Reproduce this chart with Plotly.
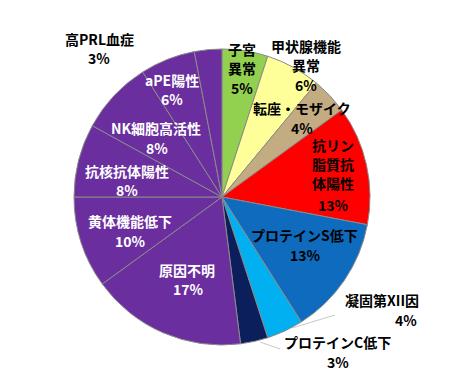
import plotly.graph_objects as go

W, H = 450, 385
OFF = 8  # page body margin offset

labels = ["子宮異常", "甲状腺機能異常", "転座・モザイク", "抗リン脂質抗体陽性", "プロテインS低下",
          "凝固第XII因", "プロテインC低下", "原因不明", "黄体機能低下", "抗核抗体陽性",
          "NK細胞高活性", "aPE陽性", "高PRL血症"]
values = [5, 6, 4, 13, 13, 4, 3, 17, 10, 8, 8, 6, 3]
# label text split into display lines (as wrapped in the chart)
label_lines = [["子宮", "異常"], ["甲状腺機能", "異常"], ["転座・モザイク"], ["抗リン", "脂質抗", "体陽性"],
               ["プロテインS低下"], ["凝固第XII因"], ["プロテインC低下"], ["原因不明"], ["黄体機能低下"],
               ["抗核抗体陽性"], ["NK細胞高活性"], ["aPE陽性"], ["高PRL血症"]]

colors = ["#92D050", "#FFFF99", "#C4AC82", "#FF0000", "#0E6BBE", "#00B0F0", "#0A1F5C",
          "#6A2E9E", "#6A2E9E", "#6A2E9E", "#6A2E9E", "#6A2E9E", "#6A2E9E"]
text_colors = ["black"] * 7 + ["white"] * 5 + ["black"]
# (x centre of name, y of first line, x centre of percent, y of percent) in screenshot pixels
label_pos = [(242, 49, 242, 88), (306, 46, 306, 85), (302, 108, 302, 128), (333, 145, 333, 205),
             (304, 235, 305, 255), (382, 300, 406, 320), (337, 342, 338, 362),
             (187, 270, 188, 289), (130, 221, 130, 241), (127, 171, 127, 190),
             (156, 128, 157, 148), (172, 80, 172, 99), (99, 39, 99, 58)]
LINE_STEP = 19

cx, cy, r = 222 - OFF, 197 - OFF, 148

fig = go.Figure(go.Pie(
    labels=labels, values=values, sort=False, direction="clockwise", rotation=0,
    marker=dict(colors=colors, line=dict(color="#8a8a8a", width=1)),
    textinfo="none", hoverinfo="label+percent", showlegend=False,
    domain=dict(x=[(cx - r) / W, (cx + r) / W], y=[(H - cy - r) / H, (H - cy + r) / H]),
))

total = sum(values)


def ann(text, px, py, color):
    return dict(x=(px - OFF) / W, y=1 - (py - OFF) / H, xref="paper", yref="paper", showarrow=False,
                xanchor="center", yanchor="middle", text=f"<b>{text}</b>",
                font=dict(family="Noto Sans CJK JP", size=14, color=color))


anns = []
for lines, v, tc, (nx, ny, qx, qy) in zip(label_lines, values, text_colors, label_pos):
    for i, line in enumerate(lines):
        anns.append(ann(line, nx, ny + i * LINE_STEP, tc))
    anns.append(ann(f"{round(100 * v / total)}%", qx, qy, tc))


def pline(x0, y0, x1, y1):
    return dict(type="line", xref="paper", yref="paper",
                x0=(x0 - OFF) / W, y0=1 - (y0 - OFF) / H, x1=(x1 - OFF) / W, y1=1 - (y1 - OFF) / H,
                line=dict(color="#c8c8c8", width=1))


shapes = [pline(292, 328, 335, 315), pline(260, 342, 280, 349)]

fig.update_layout(
    width=W, height=H, margin=dict(l=0, r=0, t=0, b=0),
    paper_bgcolor="white", plot_bgcolor="white",
    annotations=anns, shapes=shapes,
)

fig.write_html("out.html")
